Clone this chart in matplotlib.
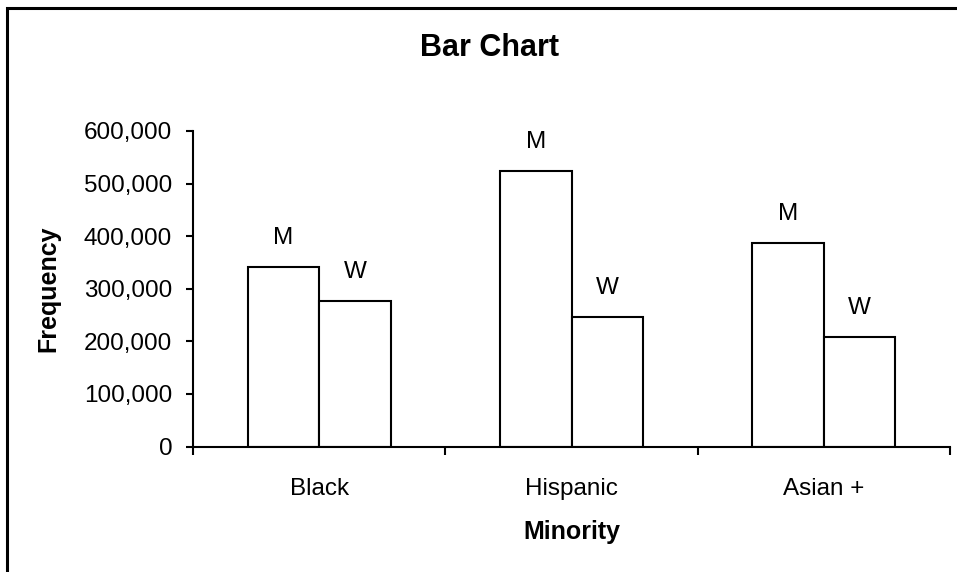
import matplotlib
matplotlib.use("Agg")
import matplotlib.pyplot as plt
from matplotlib.patches import Rectangle
from matplotlib.ticker import FuncFormatter
import numpy as np

# data
categories = ["Black", "Hispanic", "Asian +"]
men = [341500, 524000, 387000]
women = [276000, 246000, 208000]

plt.rcParams['font.family'] = ['Liberation Sans', 'DejaVu Sans']

fig = plt.figure(figsize=(9.57, 5.72), dpi=100)
ax = fig.add_axes([193 / 957, 1 - 446.5 / 572, (950 - 193) / 957, (446.5 - 131) / 572])

x = np.arange(len(categories))
w = 0.283
bars_m = ax.bar(x - w / 2, men, w, facecolor='white', edgecolor='black', linewidth=1.5)
bars_w = ax.bar(x + w / 2, women, w, facecolor='white', edgecolor='black', linewidth=1.5)

for b in bars_m:
    ax.annotate("M", (b.get_x() + b.get_width() / 2, b.get_height()), xytext=(0, 13),
                textcoords='offset points', ha='center', va='bottom', fontsize=17.5)
for b in bars_w:
    ax.annotate("W", (b.get_x() + b.get_width() / 2, b.get_height()), xytext=(0, 13),
                textcoords='offset points', ha='center', va='bottom', fontsize=17.5)

ax.set_xlim(-0.5, len(categories) - 0.5)
ax.set_ylim(0, 600000)
ax.set_yticks(np.arange(0, 600001, 100000))
ax.yaxis.set_major_formatter(FuncFormatter(lambda v, p: f"{int(v):,}"))

# category boundaries as ticks, names centred between them
ax.set_xticks(np.arange(-0.5, len(categories), 1.0))
ax.set_xticklabels([])
ax.set_xticks(x, minor=True)
ax.set_xticklabels(categories, minor=True)
ax.tick_params(axis='x', which='major', direction='out', length=6, width=1.5)
ax.tick_params(axis='x', which='minor', length=0, pad=23, labelsize=17.5)
ax.tick_params(axis='y', direction='out', length=5, width=1.5, pad=10, labelsize=17.5)

for side in ['top', 'right']:
    ax.spines[side].set_visible(False)
for side in ['left', 'bottom']:
    ax.spines[side].set_linewidth(1.5)

ax.set_ylabel("Frequency", fontsize=18, fontweight='bold')
ax.yaxis.set_label_coords(-0.175, 0.5)
ax.set_xlabel("Minority", fontsize=18, fontweight='bold')
ax.xaxis.set_label_coords(0.5, -0.232)

fig.text(489.5 / 957, 1 - 48 / 572, "Bar Chart", ha='center', va='center',
         fontsize=22, fontweight='bold')

# outer chart frame (only top and left edges fall inside the picture)
fig.patches.append(Rectangle((7.5 / 957, -0.1), 1.2, 1.1 - 7.5 / 572, transform=fig.transFigure,
                             fill=False, edgecolor='black', linewidth=2.2))

fig.savefig("out.png", dpi=100)
